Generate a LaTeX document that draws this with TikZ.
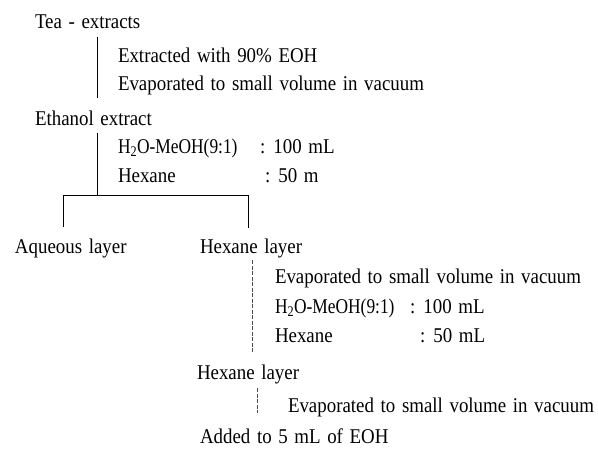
\documentclass[tikz,border=0pt]{standalone}
\usepackage{fontspec}
\setmainfont{Liberation Serif}[FakeStretch=0.9,WordSpace=1.4]
\begin{document}
\begin{tikzpicture}[x=1pt,y=-1pt,
  txt/.style={anchor=base west,inner sep=0pt,outer sep=0pt,font=\fontsize{21}{25}\selectfont},
  rule/.style={line width=0.9pt,black},
  dline/.style={line width=0.8pt,black!70,dash pattern=on 4pt off 1.5pt}]
\useasboundingbox (0,0) rectangle (598,450);
\node[txt] (tea) at (35,28) {Tea - extracts};
\node[txt] (ext) at (118,62) {Extracted with 90\% EOH};
\node[txt] (evapA) at (118,90) {Evaporated to small volume in vacuum};
\node[txt] (eth) at (35,125) {Ethanol extract};
\node[txt] (hmA) at (118,153) {\scalebox{0.92}[1]{H\textsubscript{2}O-MeOH(9:1)}};
\node[txt] (hmAv) at (260,153) {: 100 mL};
\node[txt] (hxA) at (118,182) {Hexane};
\node[txt] (hxAv) at (265,182) {: 50 m};
\node[txt] (aq) at (15,253) {Aqueous layer};
\node[txt] (hlA) at (200,253) {Hexane layer};
\node[txt] (evapB) at (275,283) {Evaporated to small volume in vacuum};
\node[txt] (hmB) at (275,313) {\scalebox{0.92}[1]{H\textsubscript{2}O-MeOH(9:1)}};
\node[txt] (hmBv) at (410,313) {: 100 mL};
\node[txt] (hxB) at (275,342) {Hexane};
\node[txt] (hxBv) at (420,342) {: 50 mL};
\node[txt] (hlB) at (197,379) {Hexane layer};
\node[txt] (evapC) at (288,412) {Evaporated to small volume in vacuum};
\node[txt] (add) at (200,443) {Added to 5 mL of EOH};
% connectors
\coordinate (l1a) at (97,37);
\coordinate (l1b) at (97,98);
\coordinate (l2a) at (97,133);
\coordinate (l2b) at (97,195);
\coordinate (bl) at (63,195);
\coordinate (br) at (248,195);
\coordinate (blb) at (63,227);
\coordinate (brb) at (248,228);
\coordinate (l3a) at (252,260);
\coordinate (l3b) at (252,352);
\coordinate (l4a) at (257,388);
\coordinate (l4b) at (257,413);
\draw[rule] (l1a) -- (l1b);
\draw[rule] (l2a) -- (l2b);
\draw[rule] (blb) -- (bl) -- (br) -- (brb);
\draw[dline] (l3a) -- (l3b);
\draw[dline] (l4a) -- (l4b);
\end{tikzpicture}
\end{document}
